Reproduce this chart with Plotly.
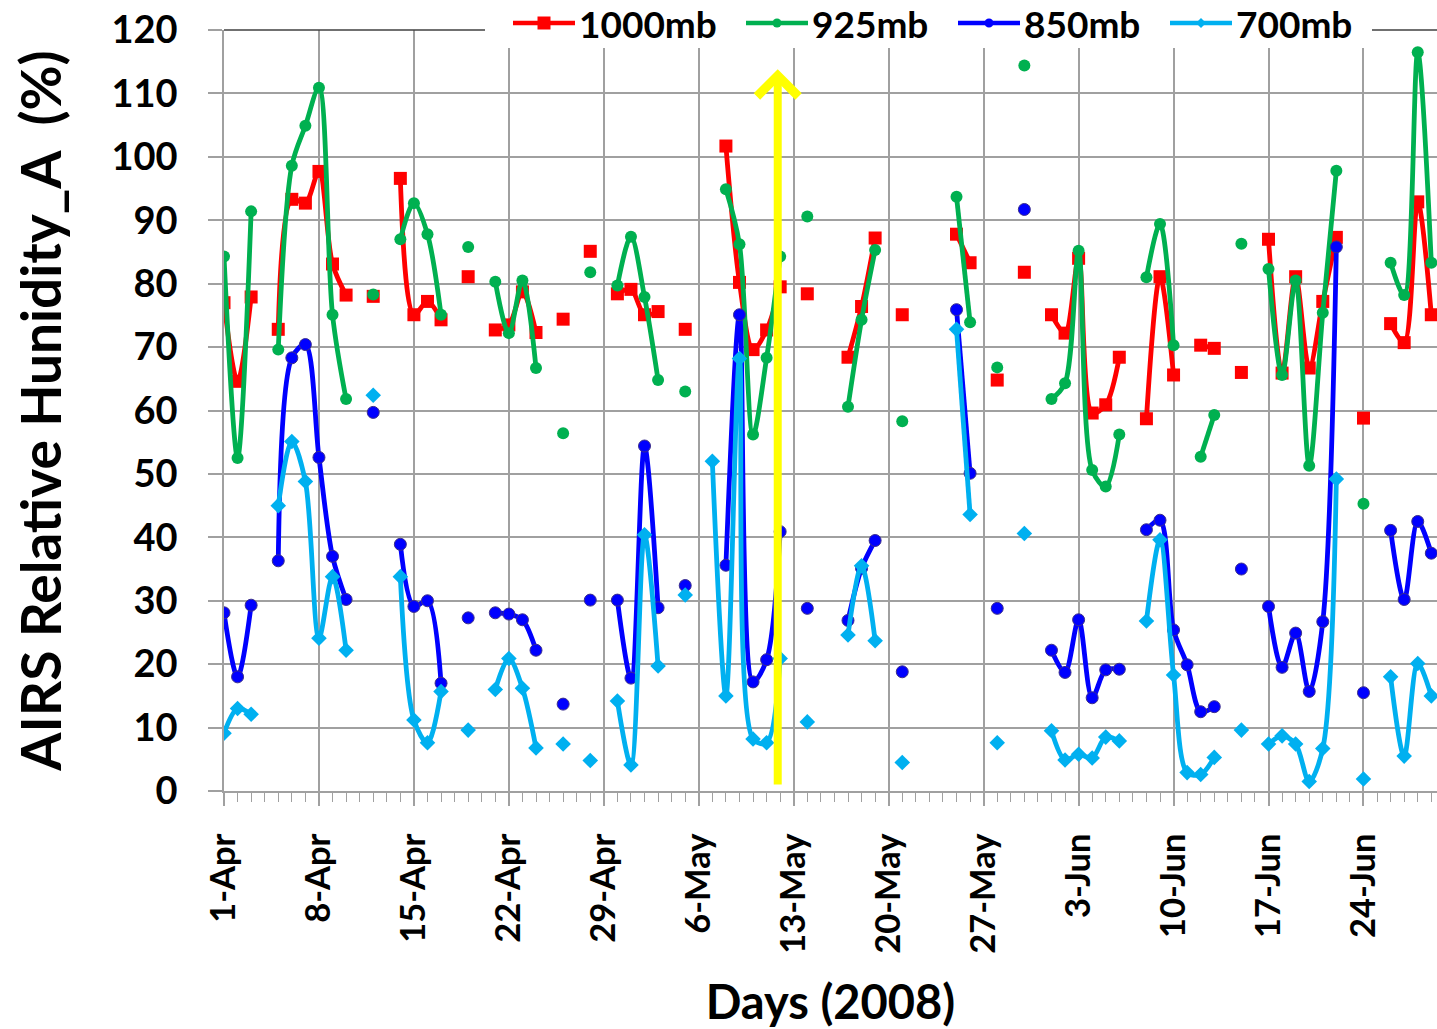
import datetime as dt
import plotly.graph_objects as go

START = dt.date(2008, 4, 1)
N_DAYS = 90
days = [START + dt.timedelta(days=i) for i in range(N_DAYS)]

# values keyed by day offset from 1-Apr-2008 (missing days -> gaps)
rh_1000 = {0: 77.0, 1: 64.6, 2: 77.9, 4: 72.8, 5: 93.3, 6: 92.7, 7: 97.7, 8: 83.1, 9: 78.2,
           11: 78.0, 13: 96.6, 14: 75.1, 15: 77.2, 16: 74.3, 18: 81.1, 20: 72.7, 21: 73.5,
           22: 78.7, 23: 72.3, 25: 74.4, 27: 85.1, 29: 78.4, 30: 79.1, 31: 75.1, 32: 75.6,
           34: 72.8, 37: 101.7, 38: 80.2, 39: 69.6, 40: 72.7, 41: 79.5, 43: 78.4, 46: 68.4,
           47: 76.4, 48: 87.2, 50: 75.1, 54: 87.8, 55: 83.3, 57: 64.8, 59: 81.8, 61: 75.1,
           62: 72.2, 63: 84.0, 64: 59.6, 65: 60.9, 66: 68.4, 68: 58.7, 69: 81.1, 70: 65.6,
           72: 70.3, 73: 69.8, 75: 66.0, 77: 87.0, 78: 65.9, 79: 81.1, 80: 66.7, 81: 77.2,
           82: 87.3, 84: 58.8, 86: 73.7, 87: 70.7, 88: 92.9, 89: 75.1}
rh_925 = {0: 84.3, 1: 52.5, 2: 91.4, 4: 69.6, 5: 98.6, 6: 104.9, 7: 110.9, 8: 75.1, 9: 61.8,
          11: 78.3, 13: 87.0, 14: 92.7, 15: 87.8, 16: 75.1, 18: 85.8, 20: 80.3, 21: 72.2,
          22: 80.5, 23: 66.7, 25: 56.4, 27: 81.8, 29: 79.7, 30: 87.4, 31: 77.9, 32: 64.8,
          34: 63.0, 37: 94.9, 38: 86.2, 39: 56.2, 40: 68.3, 41: 84.3, 43: 90.6, 46: 60.6,
          47: 74.3, 48: 85.3, 50: 58.3, 54: 93.7, 55: 73.9, 57: 66.8, 59: 114.4, 61: 61.8,
          62: 64.3, 63: 85.2, 64: 50.6, 65: 48.0, 66: 56.2, 68: 81.0, 69: 89.4, 70: 70.3,
          72: 52.7, 73: 59.3, 75: 86.3, 77: 82.3, 78: 65.6, 79: 80.5, 80: 51.3, 81: 75.4,
          82: 97.8, 84: 45.3, 86: 83.3, 87: 78.2, 88: 116.5, 89: 83.3}
rh_850 = {0: 28.1, 1: 18.0, 2: 29.3, 4: 36.3, 5: 68.3, 6: 70.4, 7: 52.6, 8: 37.0, 9: 30.2,
          11: 59.7, 13: 38.9, 14: 29.1, 15: 30.0, 16: 17.0, 18: 27.3, 20: 28.1, 21: 27.9,
          22: 27.0, 23: 22.2, 25: 13.7, 27: 30.1, 29: 30.1, 30: 17.8, 31: 54.4, 32: 28.9,
          34: 32.4, 37: 35.6, 38: 75.1, 39: 17.2, 40: 20.7, 41: 40.9, 43: 28.8, 46: 26.9,
          47: 35.1, 48: 39.5, 50: 18.8, 54: 75.9, 55: 50.1, 57: 28.8, 59: 91.7, 61: 22.2,
          62: 18.7, 63: 27.0, 64: 14.7, 65: 19.1, 66: 19.2, 68: 41.2, 69: 42.7, 70: 25.4,
          71: 19.9, 72: 12.5, 73: 13.3, 75: 35.0, 77: 29.1, 78: 19.5, 79: 24.9, 80: 15.7,
          81: 26.7, 82: 85.8, 84: 15.5, 86: 41.1, 87: 30.2, 88: 42.5, 89: 37.5}
rh_700 = {0: 9.1, 1: 13.0, 2: 12.1, 4: 45.0, 5: 55.1, 6: 48.8, 7: 24.1, 8: 33.8, 9: 22.2,
          11: 62.4, 13: 33.8, 14: 11.2, 15: 7.6, 16: 15.7, 18: 9.6, 20: 16.0, 21: 20.9,
          22: 16.2, 23: 6.8, 25: 7.4, 27: 4.8, 29: 14.2, 30: 4.1, 31: 40.4, 32: 19.7,
          34: 30.9, 36: 52.0, 37: 15.0, 38: 68.2, 39: 8.2, 40: 7.6, 41: 20.9, 43: 10.9,
          46: 24.6, 47: 35.5, 48: 23.7, 50: 4.5, 54: 72.8, 55: 43.6, 57: 7.6, 59: 40.6,
          61: 9.5, 62: 4.9, 63: 5.8, 64: 5.2, 65: 8.5, 66: 7.9, 68: 26.8, 69: 39.6,
          70: 18.3, 71: 2.9, 72: 2.6, 73: 5.3, 75: 9.6, 77: 7.4, 78: 8.7, 79: 7.4, 80: 1.5,
          81: 6.7, 82: 49.2, 84: 1.9, 86: 18.0, 87: 5.5, 88: 20.1, 89: 15.0}

series_names = ["1000mb", "925mb", "850mb", "700mb"]
series_data = [rh_1000, rh_925, rh_850, rh_700]
colors = ["#FF0000", "#00B050", "#0000FF", "#00B0F0"]
symbols = ["square", "circle", "circle", "diamond"]
msizes = [13, 12, 12, 12]
mlines = [dict(width=0), dict(width=0), dict(width=1, color="#3C2F8C"), dict(width=0)]

FONT = "Lato"
W, H = 1437, 1029
ML, MR, MT, MB = 224, 0, 30, 238
PW, PH = W - ML - MR, H - MT - MB


def px_x(p):  # pixel -> paper x
    return (p - ML) / PW


def px_y(p):  # pixel -> paper y
    return (H - MB - p) / PH


fig = go.Figure()
for name, d, c, s, ms, ml in zip(series_names, series_data, colors, symbols, msizes, mlines):
    y = [d.get(i) for i in range(N_DAYS)]
    fig.add_trace(go.Scatter(
        x=days, y=y, name=name, mode="lines+markers",
        line=dict(color=c, width=4.8, shape="spline", smoothing=0.9),
        marker=dict(symbol=s, size=ms, color=c, line=ml),
        connectgaps=False, showlegend=False,
    ))

# yellow arrow
arrow_day = 40.82
arrow_x = dt.datetime(2008, 4, 1) + dt.timedelta(days=arrow_day)
fig.add_annotation(x=arrow_x, y=113.8, ax=arrow_x, ay=0.8, xref="x", yref="y",
                   axref="x", ayref="y", showarrow=True, arrowhead=4, arrowsize=1.0,
                   arrowwidth=8, arrowcolor="#FFFF00", text="")

# dark top border line, then legend box drawn over it
shapes = [dict(type="line", xref="paper", yref="paper", layer="above",
               x0=0, x1=1, y0=1, y1=1, line=dict(color="#404040", width=1.5)),
          dict(type="rect", xref="paper", yref="paper", layer="above",
               x0=px_x(485), x1=px_x(1372), y0=px_y(48), y1=px_y(0),
               fillcolor="white", line=dict(width=0))]
legend_x = [513, 746, 958, 1170]   # left edge of each legend line sample (px)
legend_y = 23
for lx, name, c, s in zip(legend_x, series_names, colors, symbols):
    cx = lx + 31
    shapes.append(dict(type="line", xref="paper", yref="paper", layer="above",
                       x0=px_x(lx), x1=px_x(lx + 62), y0=px_y(legend_y), y1=px_y(legend_y),
                       line=dict(color=c, width=4.5)))
    if s == "square":
        shapes.append(dict(type="rect", xref="paper", yref="paper", layer="above",
                           x0=px_x(cx - 6.5), x1=px_x(cx + 6.5), y0=px_y(legend_y + 6.5),
                           y1=px_y(legend_y - 6.5), fillcolor=c, line=dict(width=0)))
    elif s == "circle":
        shapes.append(dict(type="circle", xref="paper", yref="paper", layer="above",
                           x0=px_x(cx - 4.5), x1=px_x(cx + 4.5), y0=px_y(legend_y + 4.5),
                           y1=px_y(legend_y - 4.5), fillcolor=c, line=dict(width=0)))
    else:
        pts = [(cx, legend_y - 5), (cx + 5, legend_y), (cx, legend_y + 5), (cx - 5, legend_y)]
        path = "M " + " L ".join(f"{px_x(a):.5f},{px_y(b):.5f}" for a, b in pts) + " Z"
        shapes.append(dict(type="path", xref="paper", yref="paper", layer="above",
                           path=path, fillcolor=c, line=dict(width=0)))
    fig.add_annotation(x=px_x(lx + 64), y=px_y(legend_y), xref="paper", yref="paper",
                       xanchor="left", yanchor="middle", showarrow=False, text=name,
                       font=dict(family=FONT, size=37, weight="bold", color="black"))

x_end = dt.datetime(2008, 4, 1) + dt.timedelta(days=89.42)
grid = "#A0A0A0"
fig.update_layout(
    width=W, height=H,
    margin=dict(l=ML, r=MR, t=MT, b=MB, autoexpand=False),
    paper_bgcolor="white", plot_bgcolor="white",
    font=dict(family=FONT, color="black", weight="bold"),
    showlegend=False,
    shapes=shapes,
    xaxis=dict(
        type="date", range=[dt.datetime(2008, 4, 1), x_end], automargin=False,
        tick0="2008-04-01", dtick=7 * 86400000, tickformat="%-d-%b", tickangle=-90,
        ticks="outside", ticklen=13, tickwidth=1.5, tickcolor=grid,
        minor=dict(dtick=86400000, ticks="outside", ticklen=9, tickwidth=1.2,
                   tickcolor=grid, showgrid=False),
        showgrid=True, gridcolor=grid, gridwidth=1.5,
        showline=True, linecolor=grid, linewidth=1.5,
        tickfont=dict(family=FONT, size=34.5, weight="bold"),
        ticklabelstandoff=14, ticklabeloverflow="allow",
        title=dict(text="Days (2008)", font=dict(family=FONT, size=47, weight="bold"),
                   standoff=38),
        zeroline=False,
    ),
    yaxis=dict(
        range=[0, 120], dtick=10, tick0=0, automargin=False,
        ticks="outside", ticklen=14, tickwidth=1.5, tickcolor=grid,
        showgrid=True, gridcolor=grid, gridwidth=1.5,
        showline=True, linecolor=grid, linewidth=1.5,
        tickfont=dict(family=FONT, size=38, weight="bold"),
        ticklabelstandoff=23, ticklabeloverflow="allow",
        title=dict(text="AIRS Relative Hunidity_A \u00a0(%)",
                   font=dict(family=FONT, size=55, weight="bold"), standoff=32),
        zeroline=False,
    ),
)

fig.write_html("out.html", config={"displayModeBar": False},
               post_script="document.body.style.margin='0px';")
